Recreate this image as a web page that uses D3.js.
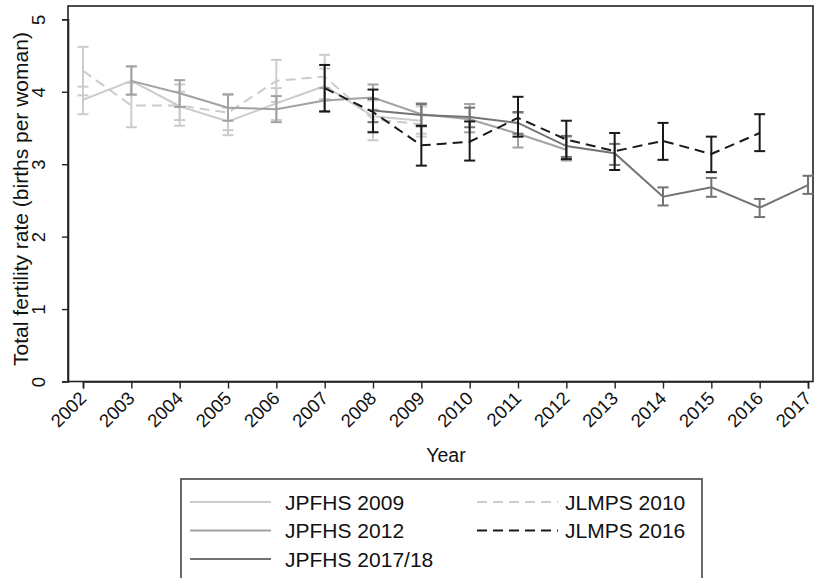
<!DOCTYPE html>
<html>
<head>
<meta charset="utf-8">
<script src="https://cdn.jsdelivr.net/npm/d3@7"></script>
<style>
  html, body { margin: 0; padding: 0; background: #fff; }
  svg { display: block; font-family: "Liberation Sans", Arial, Helvetica, sans-serif; }
</style>
</head>
<body>
<svg id="chart" width="814" height="578"></svg>
<script>
// ---------- DATA ----------
const yTicks = [0, 1, 2, 3, 4, 5];
const xTicks = [2002, 2003, 2004, 2005, 2006, 2007, 2008, 2009, 2010, 2011, 2012, 2013, 2014, 2015, 2016, 2017];

const jpfhs2009Years = [2002, 2003, 2004, 2005, 2006, 2007, 2008, 2009];
const jpfhs2009Value = [3.89, 4.15, 3.80, 3.59, 3.84, 4.08, 3.66, 3.60];
const jpfhs2009Low   = [3.69, 3.96, 3.61, 3.40, 3.61, 3.88, 3.45, 3.42];
const jpfhs2009High  = [4.07, 4.35, 4.00, 3.78, 4.05, 4.32, 3.88, 3.80];

const jlmps2010Years = [2002, 2003, 2004, 2005, 2006, 2007, 2008, 2009];
const jlmps2010Value = [4.29, 3.81, 3.81, 3.71, 4.15, 4.21, 3.62, 3.55];
const jlmps2010Low   = [3.95, 3.51, 3.53, 3.47, 3.86, 3.90, 3.33, 3.38];
const jlmps2010High  = [4.62, 4.12, 4.10, 3.97, 4.44, 4.51, 3.90, 3.80];

const jpfhs2012Years = [2003, 2004, 2005, 2006, 2007, 2008, 2009, 2010, 2011, 2012];
const jpfhs2012Value = [4.15, 3.98, 3.78, 3.76, 3.88, 3.92, 3.69, 3.62, 3.42, 3.20];
const jpfhs2012Low   = [3.96, 3.79, 3.60, 3.58, 3.72, 3.75, 3.52, 3.44, 3.23, 3.05];
const jpfhs2012High  = [4.35, 4.16, 3.96, 3.94, 4.05, 4.10, 3.84, 3.83, 3.71, 3.38];

const jpfhs2017Years = [2008, 2009, 2010, 2011, 2012, 2013, 2014, 2015, 2016, 2017];
const jpfhs2017Value = [3.74, 3.68, 3.65, 3.57, 3.25, 3.15, 2.55, 2.68, 2.40, 2.71];
const jpfhs2017Low   = [3.58, 3.53, 3.51, 3.42, 3.10, 2.99, 2.43, 2.55, 2.27, 2.59];
const jpfhs2017High  = [3.90, 3.83, 3.78, 3.72, 3.39, 3.28, 2.68, 2.81, 2.52, 2.84];

const jlmps2016Years = [2007, 2008, 2009, 2010, 2011, 2012, 2013, 2014, 2015, 2016];
const jlmps2016Value = [4.05, 3.72, 3.26, 3.31, 3.64, 3.34, 3.18, 3.32, 3.14, 3.43];
const jlmps2016Low   = [3.73, 3.44, 2.98, 3.05, 3.38, 3.07, 2.92, 3.06, 2.89, 3.18];
const jlmps2016High  = [4.37, 4.03, 3.53, 3.59, 3.93, 3.60, 3.43, 3.57, 3.38, 3.69];

const seriesNames = ["JPFHS 2009", "JPFHS 2012", "JPFHS 2017/18", "JLMPS 2010", "JLMPS 2016"];

// ---------- BUILD ----------
const series = [
  {name: "JPFHS 2009", years: jpfhs2009Years, v: jpfhs2009Value, lo: jpfhs2009Low, hi: jpfhs2009High, color: "#cccccc", dash: null},
  {name: "JLMPS 2010", years: jlmps2010Years, v: jlmps2010Value, lo: jlmps2010Low, hi: jlmps2010High, color: "#cccccc", dash: "10,6"},
  {name: "JPFHS 2012", years: jpfhs2012Years, v: jpfhs2012Value, lo: jpfhs2012Low, hi: jpfhs2012High, color: "#a2a2a2", dash: null},
  {name: "JPFHS 2017/18", years: jpfhs2017Years, v: jpfhs2017Value, lo: jpfhs2017Low, hi: jpfhs2017High, color: "#737373", dash: null},
  {name: "JLMPS 2016", years: jlmps2016Years, v: jlmps2016Value, lo: jlmps2016Low, hi: jlmps2016High, color: "#1a1a1a", dash: "10,6"}
];

const svg = d3.select("#chart");
const pLeft = 68, pRight = 813, pTop = 6, pBottom = 381.5;

const x = d3.scaleLinear().domain([2002, 2017]).range([83, 808]);
const y = d3.scaleLinear().domain([0, 5]).range([pBottom, 19.3]);

// frame
svg.append("rect")
  .attr("x", pLeft).attr("y", pTop)
  .attr("width", pRight - pLeft).attr("height", pBottom - pTop)
  .attr("fill", "none").attr("stroke", "#222").attr("stroke-width", 1.6);

// Y axis
const yAxis = svg.append("g").attr("transform", `translate(${pLeft},0)`)
  .call(d3.axisLeft(y).tickValues(yTicks).tickSize(6).tickFormat(d3.format("d")));
yAxis.select(".domain").attr("stroke", "#222").attr("stroke-width", 1.6);
yAxis.selectAll(".tick line").attr("stroke", "#222").attr("stroke-width", 1.4);
yAxis.selectAll(".tick text").remove();
yAxis.selectAll(".tick").append("text")
  .attr("transform", "translate(-23,0) rotate(-90)")
  .attr("text-anchor", "middle")
  .attr("fill", "#111")
  .attr("font-size", 18.5)
  .text(d => d);

// X axis
const xAxis = svg.append("g").attr("transform", `translate(0,${pBottom})`)
  .call(d3.axisBottom(x).tickValues(xTicks).tickSize(7).tickFormat(d3.format("d")));
xAxis.select(".domain").attr("stroke", "#222").attr("stroke-width", 1.6);
xAxis.selectAll(".tick line").attr("stroke", "#222").attr("stroke-width", 1.4);
xAxis.selectAll(".tick text").remove();
xAxis.selectAll(".tick").append("text")
  .attr("transform", "translate(4,18) rotate(-45)")
  .attr("text-anchor", "end")
  .attr("fill", "#111")
  .attr("font-size", 18.5)
  .text(d => d);

// axis titles
svg.append("text")
  .attr("transform", "translate(28,199) rotate(-90)")
  .attr("text-anchor", "middle")
  .attr("font-size", 21).attr("fill", "#111")
  .text("Total fertility rate (births per woman)");
svg.append("text")
  .attr("x", 446).attr("y", 462)
  .attr("text-anchor", "middle")
  .attr("font-size", 19.5).attr("fill", "#111")
  .text("Year");

// series
const plot = svg.append("g");
const line = d3.line().x(d => x(d.year)).y(d => y(d.v));
series.forEach(s => {
  const pts = s.years.map((yr, i) => ({year: yr, v: s.v[i], lo: s.lo[i], hi: s.hi[i]}));
  const g = plot.append("g");
  const eb = g.selectAll("g.eb").data(pts).enter().append("g")
    .attr("stroke", s.color).attr("stroke-width", 2).attr("fill", "none");
  eb.append("line").attr("x1", d => x(d.year)).attr("x2", d => x(d.year))
    .attr("y1", d => y(d.lo)).attr("y2", d => y(d.hi));
  eb.append("line").attr("x1", d => x(d.year) - 5.5).attr("x2", d => x(d.year) + 5.5)
    .attr("y1", d => y(d.lo)).attr("y2", d => y(d.lo));
  eb.append("line").attr("x1", d => x(d.year) - 5.5).attr("x2", d => x(d.year) + 5.5)
    .attr("y1", d => y(d.hi)).attr("y2", d => y(d.hi));
  g.append("path").datum(pts).attr("d", line)
    .attr("fill", "none").attr("stroke", s.color).attr("stroke-width", 2)
    .attr("stroke-dasharray", s.dash);
});

// legend
const lg = svg.append("g");
lg.append("rect").attr("x", 181).attr("y", 479).attr("width", 521).attr("height", 130)
  .attr("fill", "#fff").attr("stroke", "#444").attr("stroke-width", 1.6);
const legendPos = [
  {col: 0, row: 0}, {col: 0, row: 1}, {col: 0, row: 2}, {col: 1, row: 0}, {col: 1, row: 1}
];
seriesNames.forEach((name, i) => {
  const s = series.find(t => t.name === name);
  const p = legendPos[i];
  const lx = p.col === 0 ? 190 : 477;
  const tx = p.col === 0 ? 285 : 565;
  const ly = 502 + p.row * 28.5;
  lg.append("line").attr("x1", lx).attr("x2", lx + 81).attr("y1", ly).attr("y2", ly)
    .attr("stroke", s.color).attr("stroke-width", 2).attr("stroke-dasharray", s.dash);
  lg.append("text").attr("x", tx).attr("y", ly + 7.5)
    .attr("font-size", 21).attr("fill", "#111").text(name);
});
</script>
</body>
</html>
